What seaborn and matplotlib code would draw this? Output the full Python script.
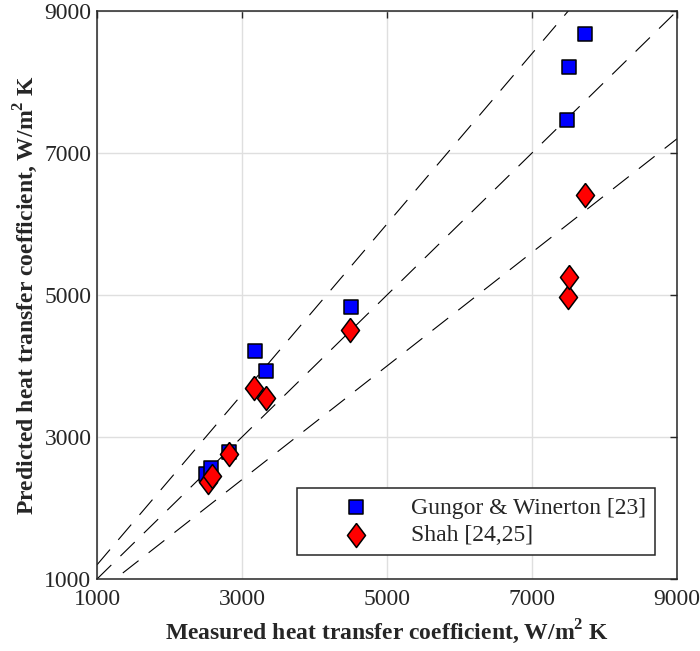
import numpy as np
import pandas as pd
import seaborn as sns
import matplotlib.pyplot as plt

# measured vs predicted heat transfer coefficient (W/m2 K)
gungor_measured = [2510, 2570, 2820, 3180, 3330, 4500, 7480, 7510, 7730]
gungor_predicted = [2480, 2560, 2790, 4210, 3930, 4830, 7465, 8210, 8676]
shah_measured = [2530, 2590, 2820, 3170, 3330, 4490, 7500, 7510, 7730]
shah_predicted = [2370, 2450, 2760, 3690, 3550, 4510, 4970, 5250, 6410]

ref_x = [1000, 9000]
ref_ratios = [1.2, 1.0, 0.8]
ticks = [1000, 3000, 5000, 7000, 9000]

sns.set_theme(style='whitegrid')
plt.rcParams['font.family'] = ['Liberation Serif', 'DejaVu Serif']
plt.rcParams['mathtext.fontset'] = 'custom'
plt.rcParams['mathtext.rm'] = 'Liberation Serif'
plt.rcParams['mathtext.bf'] = 'Liberation Serif:bold'

fig = plt.figure(figsize=(7, 6.51), dpi=100)
ax = fig.add_axes([0.1386, 0.1106, 0.8285, 0.8725])

for r in ref_ratios:
    ref = pd.DataFrame({'x': ref_x, 'y': [r * v for v in ref_x]})
    l = sns.lineplot(data=ref, x='x', y='y', ax=ax, color='black', lw=0.8, zorder=2)
    l.lines[-1].set_dashes((18, 11.5))

diamond = [(0, 1), (0.75, 0), (0, -1), (-0.75, 0), (0, 1)]
sns.scatterplot(x=gungor_measured, y=gungor_predicted, ax=ax, marker='s', s=100,
                color='#0000ff', edgecolor='black', linewidth=1.1, zorder=3,
                label='Gungor & Winerton [23]')
sns.scatterplot(x=shah_measured, y=shah_predicted, ax=ax, marker=diamond, s=300,
                color='#ff0000', edgecolor='black', linewidth=1.1, zorder=4,
                label='Shah [24,25]')

ax.set_xlim(1000, 9000)
ax.set_ylim(1000, 9000)
ax.set_xticks(ticks)
ax.set_yticks(ticks)
ax.tick_params(direction='in', length=5, width=1, colors='#262626', labelsize=17,
               top=True, right=True, labelcolor='#262626')
ax.tick_params(axis='x', pad=7)
ax.tick_params(axis='y', pad=4)
ax.grid(True, color='#dfdfdf', lw=1)
for s in ax.spines.values():
    s.set_visible(True)
    s.set_color('#262626')
    s.set_linewidth(1.1)
ax.set_facecolor('white')

ax.set_xlabel(r'Measured heat transfer coefficient, W/m$^\mathbf{2}$ K',
              fontsize=17, fontweight='bold', color='#262626', labelpad=6)
ax.set_ylabel(r'Predicted heat transfer coefficient, W/m$^\mathbf{2}$ K',
              fontsize=17, fontweight='bold', color='#262626', labelpad=3)

leg = ax.legend(loc='lower right', bbox_to_anchor=(0.962, 0.042), borderaxespad=0,
                fontsize=17, handlelength=4.2, handletextpad=0.25, labelspacing=0.27,
                borderpad=0.37, fancybox=False, framealpha=1, edgecolor='#262626')
leg.get_frame().set_linewidth(1.1)

fig.savefig('out.png', dpi=100)
